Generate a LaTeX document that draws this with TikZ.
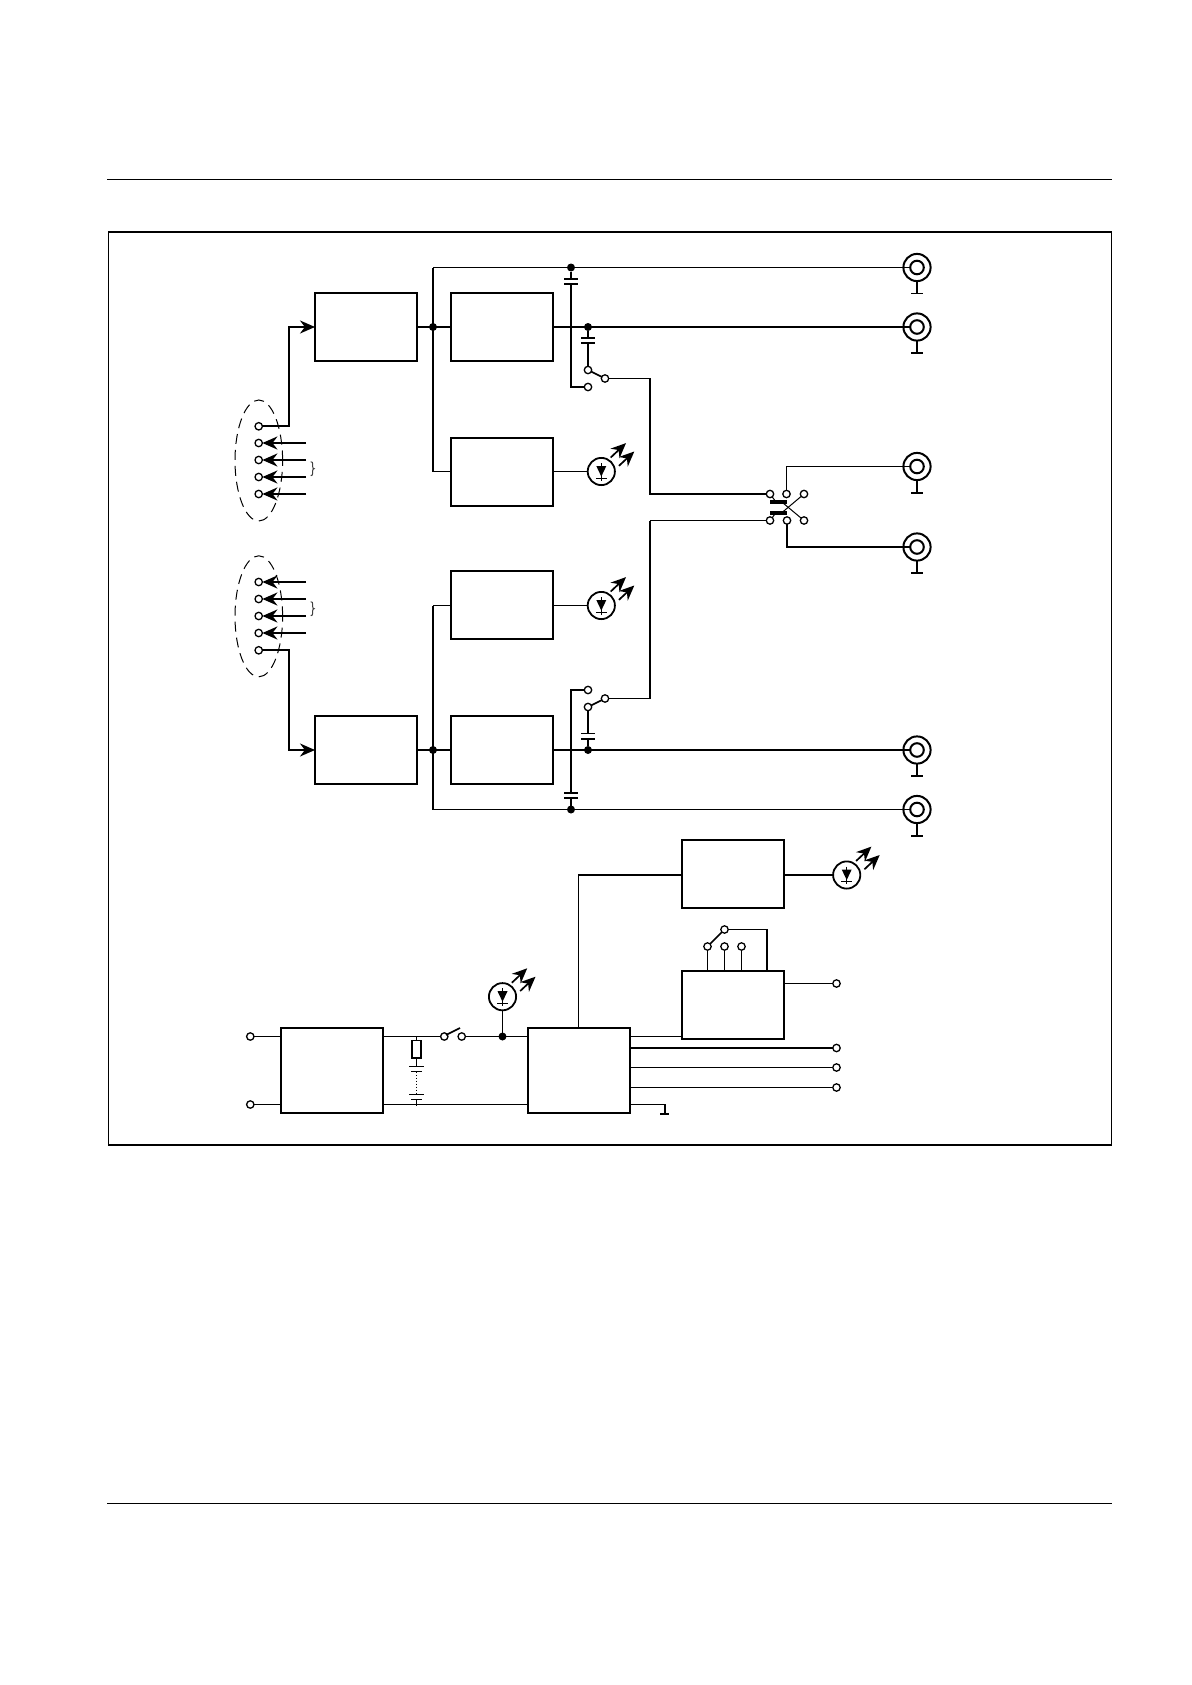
\documentclass[tikz,border=0pt]{standalone}
\usepackage{xcolor}
\usepackage{tikz}
\usetikzlibrary{shapes.geometric, arrows.meta, positioning, calc}

% LED mark round a named circle
\newcommand{\ledmark}[1]{%
  \begin{scope}[shift={(#1)}]
    \draw[wire] (0,-8.5) -- (0,9);
    \fill (-5,-5.5) -- (5,-5.5) -- (0,5) -- cycle;
    \draw[wire] (-5.5,6.5) -- (5.5,6.5);
    \draw[arrow, line width=.85pt] (9.4,-14) -- (24.7,-28.4);
    \draw[arrow, line width=.85pt] (17.7,-5.7) -- (33,-20);
  \end{scope}}

\begin{document}
\begin{tikzpicture}[
    x=0.5pt, y=-0.5pt,
    node distance=38.5pt and 17pt,
    block/.style={rectangle, draw, line width=1pt, inner sep=0pt, outer sep=0pt, minimum width=51pt, minimum height=34pt},
    wire/.style={line width=.5pt},
    bus/.style={line width=1pt},
    arrow/.style={-{Stealth[length=7.5pt, width=6.5pt]}, line width=1pt},
    contact/.style={circle, draw, fill=white, line width=.65pt, inner sep=0pt, outer sep=0pt, minimum size=3.7pt},
    dot/.style={circle, fill=black, inner sep=0pt, outer sep=0pt, minimum size=4pt},
    led/.style={circle, draw, line width=.9pt, inner sep=0pt, outer sep=0pt, minimum size=13.6pt},
    coaxouter/.style={circle, draw, line width=1pt, inner sep=0pt, outer sep=0pt, minimum size=13.6pt},
    coaxinner/.style={circle, draw, line width=1pt, inner sep=0pt, outer sep=0pt, minimum size=6.8pt},
    pingroup/.style={ellipse, draw, dash pattern=on 5pt off 3pt, line width=.5pt, inner sep=0pt, outer sep=0pt, minimum width=23.8pt, minimum height=60.5pt},
    plate/.style={line width=.8pt}
]
    \useasboundingbox (0,0) rectangle (1191,1685);

    % Rules and frame
    \coordinate (ruleTopL) at (107,179.5);
    \coordinate (ruleTopR) at (1112,179.5);
    \coordinate (ruleBotL) at (107,1503.5);
    \coordinate (ruleBotR) at (1112,1503.5);
    \coordinate (frameTL) at (108.7,232);
    \coordinate (frameBR) at (1111.3,1145);
    \draw[wire] (ruleTopL) -- (ruleTopR);
    \draw[wire] (ruleBotL) -- (ruleBotR);
    \draw[line width=.65pt] (frameTL) rectangle (frameBR);
    \draw[bus] (frameTL) -- (frameTL -| frameBR);
    \draw[bus] (frameTL |- frameBR) -- (frameBR);

    % Nodes, upper channel
    \node (convA) [block] at (366,327) {};
    \node (ampA) [block, right=of convA] {};
    \node (detA) [block, below=of ampA] {};
    \node (ledA) [led] at (601.3,471.5) {};
    \node (jointA) [dot] at (433,327) {};
    \node (dotAa) [dot] at (571,267.5) {};
    \node (dotAb) [dot] at (588,327) {};
    \node (swAa) [contact] at (588,370) {};
    \node (swAb) [contact] at (588,387) {};
    \node (swAc) [contact] at (605,378.5) {};
    \node (groupA) [pingroup] at (258.8,460.5) {};
    \foreach \i/\ypos in {1/426.3, 2/443, 3/460, 4/477, 5/494} {
        \node (pinA\i) [contact] at (258.7,\ypos) {};
    }

    % Nodes, lower channel
    \node (detB) [block] at (502,605) {};
    \node (convB) [block] at (366,750) {};
    \node (ampB) [block, right=of convB] {};
    \node (ledB) [led] at (601.3,605.5) {};
    \node (jointB) [dot] at (433,750) {};
    \node (dotBa) [dot] at (571,809.5) {};
    \node (dotBb) [dot] at (588,750) {};
    \node (swBa) [contact] at (588,690) {};
    \node (swBb) [contact] at (588,707) {};
    \node (swBc) [contact] at (605,698.5) {};
    \node (groupB) [pingroup] at (258.8,616.3) {};
    \foreach \i/\ypos in {1/582, 2/599, 3/616, 4/633, 5/650.3} {
        \node (pinB\i) [contact] at (258.7,\ypos) {};
    }

    % Output sockets
    \foreach \name/\ypos/\gnd in {coaxA/267.5/26, coaxB/327/26, coaxC/466.5/26.5, coaxD/547/26, coaxE/750/26, coaxF/809.5/26.5} {
        \node (\name) [coaxouter] at (917,\ypos) {};
        \node (\name-in) [coaxinner] at (\name) {};
        \draw[line width=.75pt] (\name.south) -- (917,\ypos+\gnd) coordinate (\name-g);
        \draw[plate] ($(\name-g)+(-6,0)$) -- ($(\name-g)+(6,0)$);
    }

    % Nodes, cross-over switch
    \foreach \name/\xtop/\xbot in {l/770/770, m/786.5/787, r/804/804} {
        \node (xT\name) [contact] at (\xtop,494) {};
        \node (xB\name) [contact] at (\xbot,520.5) {};
    }

    % Nodes, supply part
    \node (mains) [block, minimum height=42.5pt] at (332,1070.5) {};
    \node (ctrl) [block, minimum height=42.5pt] at (579,1070.5) {};
    \node (mon) [block] at (733,874) {};
    \node (sel) [block] at (733,1005) {};
    \node (ledC) [led] at (846.7,875) {};
    \node (ledD) [led] at (502.5,996.7) {};
    \node (dotC) [dot] at (502.5,1036.5) {};
    \node (termA) [contact] at (250.3,1036.5) {};
    \node (termB) [contact] at (250.3,1104.5) {};
    \node (swCa) [contact] at (444.3,1036.5) {};
    \node (swCb) [contact] at (461.7,1036.5) {};
    \node (res) [rectangle, draw, line width=.75pt, inner sep=0pt, outer sep=0pt, minimum width=4.3pt, minimum height=8.7pt] at (416.5,1049.4) {};
    \node (selA) [contact] at (707.5,946.5) {};
    \node (selB) [contact] at (724.5,946.5) {};
    \node (selC) [contact] at (741.5,946.5) {};
    \node (selD) [contact] at (724.5,929.5) {};
    \node (outA) [contact] at (836.5,983.5) {};
    \node (outB) [contact] at (836.5,1048) {};
    \node (outC) [contact] at (836.5,1067.5) {};
    \node (outD) [contact] at (836.5,1087.5) {};

    % Paths, upper channel
    \draw[arrow] (pinA1) -| (289,327) -- (convA.west);
    \foreach \i in {2,...,5} {
        \coordinate[right=21.8pt of pinA\i] (feedA\i);
        \draw[arrow] (feedA\i) -- (pinA\i);
    }
    \draw[bus] (convA) -- (ampA);
    \draw[bus] (ampA) -- (coaxB-in);
    \draw[wire] (dotAa) -- (coaxA-in);
    \draw[bus] (jointA |- dotAa) -- (jointA |- ledA);
    \draw[wire] (jointA |- dotAa) -- (dotAa);
    \draw[wire] (jointA |- ledA) -- (detA.west |- ledA);
    \draw[wire] (detA.east |- ledA) -- (ledA);
    \draw[bus] (dotAa) -- (571,279);
    \draw[plate] (564,279) -- (578,279);
    \draw[plate] (564,284) -- (578,284);
    \draw[bus] (571,284) |- (swAb);
    \draw[bus] (dotAb) -- (588,338);
    \draw[plate] (581,338) -- (595,338);
    \draw[plate] (581,343) -- (595,343);
    \draw[bus] (588,343) -- (swAa);
    \draw[bus, line width=.8pt] (swAa) -- (swAc);
    \draw[wire] (swAc) -- (650,378.5);
    \draw[bus] (650,378) |- (xTl);

    % Paths, lower channel
    \draw[arrow] (pinB5) -| (289,750) -- (convB.west);
    \foreach \i in {1,...,4} {
        \coordinate[right=21.8pt of pinB\i] (feedB\i);
        \draw[arrow] (feedB\i) -- (pinB\i);
    }
    \draw[bus] (convB) -- (ampB);
    \draw[bus] (ampB) -- (coaxE-in);
    \draw[wire] (dotBa) -- (coaxF-in);
    \draw[bus] (jointB |- ledB) -- (jointB |- dotBa);
    \draw[wire] (detB.west |- ledB) -- (jointB |- ledB);
    \draw[wire] (jointB |- dotBa) -- (dotBa);
    \draw[wire] (detB.east |- ledB) -- (ledB);
    \draw[bus] (dotBa) -- (571,798);
    \draw[plate] (564,798) -- (578,798);
    \draw[plate] (564,793) -- (578,793);
    \draw[bus] (571,793) |- (swBa);
    \draw[bus] (dotBb) -- (588,739);
    \draw[plate] (581,739) -- (595,739);
    \draw[plate] (581,733.5) -- (595,733.5);
    \draw[bus] (588,733.5) -- (swBb);
    \draw[bus, line width=.8pt] (swBb) -- (swBc);
    \draw[wire] (swBc) -- (650,698.5);
    \draw[bus] (650,699) -- (650,520.5);
    \draw[wire] (650,520.5) -- (xBl);

    % Paths, cross-over switch
    \draw[wire] (xTm) |- (coaxC-in);
    \draw[bus] (xBm) |- (coaxD-in);
    \draw[wire] (xTr) -- (783,511.7);
    \draw[wire] (xBr) -- (783,503);
    \draw[wire] (xTl) -- (776,502);
    \draw[wire] (xBl) -- (776,512.7);
    \draw[line width=1.8pt] (770,502) -- (787,502);
    \draw[line width=1.8pt] (770,512.8) -- (787,512.8);

    % Paths, supply part
    \draw[wire] (termA) -- (mains.west |- termA);
    \draw[wire] (termB) -- (mains.west |- termB);
    \draw[wire] (mains.east |- swCa) -- (swCa);
    \draw[bus, line width=.8pt] (446,1035) -- (460,1028);
    \draw[wire] (swCb) -- (ctrl.west |- swCb);
    \draw[wire] (ledD) -- (dotC);
    \draw[wire] (mains.east |- termB) -- (ctrl.west |- termB);
    \draw[wire] (res.north) -- (res.north |- swCa);
    \draw[wire] (res.south) -- (416.5,1066.5);
    \draw[wire] (409,1066.5) -- (424,1066.5);
    \draw[wire] (411,1071.5) -- (422,1071.5);
    \draw[wire, densely dotted] (416.5,1071.5) -- (416.5,1094.5);
    \draw[wire] (409,1094.5) -- (424,1094.5);
    \draw[wire] (411,1099.5) -- (422,1099.5);
    \draw[wire] (416.5,1099.5) -- (416.5,1106);
    \draw[wire] (578.5,1028) -- (578.5,875);
    \draw[bus] (578,875) -- (mon.west |- ledC);
    \draw[bus] (mon.east |- ledC) -- (ledC);
    \draw[wire] (ctrl.east |- swCa) -- (sel.west |- swCa);
    \draw[bus] (ctrl.east |- outB) -- (outB);
    \draw[wire] (ctrl.east |- outC) -- (outC);
    \draw[wire] (ctrl.east |- outD) -- (outD);
    \draw[wire] (ctrl.east |- termB) -- (665,1104.5);
    \draw[bus] (665,1104) -- (665,1114);
    \draw[bus] (660,1114) -- (669,1114);
    \draw[wire] (sel.east |- outA) -- (outA);
    \draw[bus, line width=.8pt] (selA) -- (selD);
    \draw[wire] (selA) -- (selA |- sel.north);
    \draw[wire] (selB) -- (selB |- sel.north);
    \draw[wire] (selC) -- (selC |- sel.north);
    \draw[wire] (selD) -- (767,929.5);
    \draw[bus] (767,929) -- (767,971);

    % Brace marks
    \foreach \ya in {461.7, 601.7} {
        \draw[wire, black!75] (310.7,\ya) .. controls (312.5,\ya) and (312.7,\ya+1) .. (312.7,\ya+3) -- (312.7,\ya+5) .. controls (312.7,\ya+6) and (313,\ya+7) .. (314.2,\ya+7) .. controls (313,\ya+7) and (312.7,\ya+8) .. (312.7,\ya+9) -- (312.7,\ya+11) .. controls (312.7,\ya+13) and (312.5,\ya+14) .. (310.7,\ya+14);
    }

    % LED marks
    \ledmark{ledA}
    \ledmark{ledB}
    \ledmark{ledC}
    \ledmark{ledD}
\end{tikzpicture}
\end{document}
